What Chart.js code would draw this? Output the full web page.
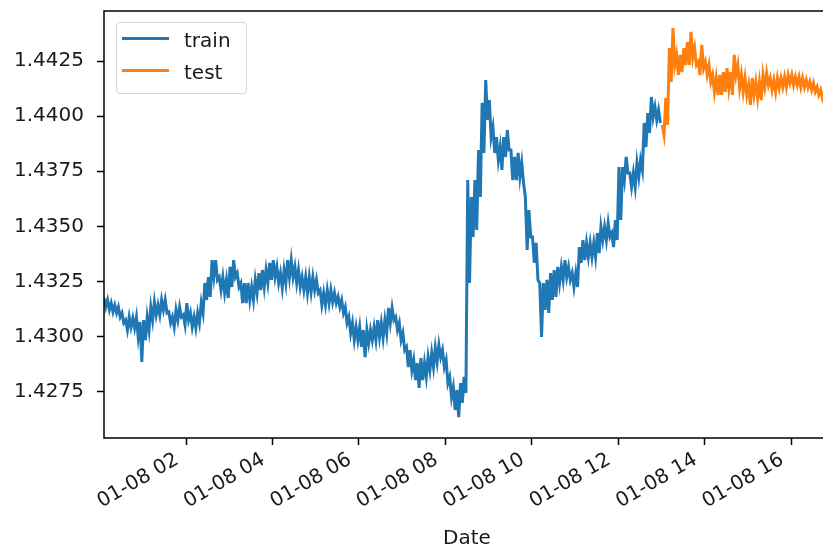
<!DOCTYPE html>
<html>
<head>
<meta charset="utf-8">
<script src="https://cdn.jsdelivr.net/npm/chart.js@4.4.1/dist/chart.umd.min.js"></script>
<style>
  html, body { margin: 0; padding: 0; background: #fff; overflow: hidden; }
  #wrap { position: relative; width: 832px; height: 547px; }
  .legend { position: absolute; left: 116px; top: 22px; width: 129px; height: 70px;
    border: 1px solid #d6d6d6; border-radius: 4px; background: rgba(255,255,255,0.8);
    font: 20px 'DejaVu Sans', sans-serif; color: #1a1a1a; }
  .legend .sw { position: absolute; left: 5px; width: 47px; height: 3px; }
  .legend .lb { position: absolute; left: 67px; height: 24px; line-height: 24px; }
</style>
</head>
<body>
<div id="wrap">
  <canvas id="chart"></canvas>
  <div class="legend">
    <div class="sw" style="top:14px;background:#1f77b4"></div>
    <div class="lb" style="top:5px">train</div>
    <div class="sw" style="top:46px;background:#ff7f0e"></div>
    <div class="lb" style="top:37px">test</div>
  </div>
</div>
<script>
  // hours after 01-08 00:00; each 5 min slot holds a high and a low reading
  const trainStart = 0.1;
  const testStart = 13.0167;
  const stepHours = 1 / 24;

  const trainPrices = [
    1.43175, 1.43134, 1.43166, 1.43121, 1.43152, 1.43112, 1.43143, 1.43107, 1.43134, 1.43089,
    1.43107, 1.43062, 1.43075, 1.43030, 1.43089, 1.43043, 1.43084, 1.43039, 1.43089, 1.42998,
    1.43066, 1.42885, 1.43075, 1.42984, 1.43089, 1.43030, 1.43134, 1.43075, 1.43157, 1.43098,
    1.43143, 1.43098, 1.43166, 1.43121, 1.43166, 1.43107, 1.43112, 1.43062, 1.43089, 1.43043,
    1.43121, 1.43075, 1.43134, 1.43089, 1.43098, 1.43053, 1.43152, 1.43075, 1.43107, 1.43043,
    1.43089, 1.43039, 1.43107, 1.43062, 1.43152, 1.43107, 1.43243, 1.43166, 1.43270, 1.43180,
    1.43347, 1.43270, 1.43347, 1.43257, 1.43270, 1.43211, 1.43270, 1.43198, 1.43257, 1.43175,
    1.43316, 1.43225, 1.43347, 1.43270, 1.43288, 1.43225, 1.43243, 1.43152, 1.43243, 1.43152,
    1.43243, 1.43166, 1.43225, 1.43166, 1.43257, 1.43198, 1.43288, 1.43211, 1.43302, 1.43225,
    1.43302, 1.43243, 1.43334, 1.43257, 1.43347, 1.43270, 1.43316, 1.43243, 1.43288, 1.43220,
    1.43302, 1.43243, 1.43347, 1.43270, 1.43347, 1.43270, 1.43316, 1.43243, 1.43302, 1.43225,
    1.43270, 1.43211, 1.43270, 1.43198, 1.43270, 1.43202, 1.43270, 1.43211, 1.43257, 1.43198,
    1.43211, 1.43143, 1.43198, 1.43143, 1.43211, 1.43152, 1.43211, 1.43157, 1.43198, 1.43152,
    1.43180, 1.43134, 1.43166, 1.43107, 1.43134, 1.43062, 1.43089, 1.43016, 1.43062, 1.42984,
    1.43043, 1.42984, 1.43043, 1.42953, 1.43030, 1.42907, 1.43030, 1.42971, 1.43030, 1.42984,
    1.43043, 1.42984, 1.43075, 1.42998, 1.43062, 1.42994, 1.43075, 1.43016, 1.43130, 1.43062,
    1.43130, 1.43075, 1.43089, 1.43030, 1.43062, 1.42984, 1.43016, 1.42939, 1.42953, 1.42862,
    1.42939, 1.42848, 1.42894, 1.42803, 1.42880, 1.42767, 1.42903, 1.42803, 1.42880, 1.42817,
    1.42907, 1.42848, 1.42925, 1.42862, 1.42948, 1.42885, 1.42962, 1.42907, 1.42939, 1.42862,
    1.42894, 1.42789, 1.42817, 1.42726, 1.42771, 1.42667, 1.42758, 1.42635, 1.42789, 1.42699,
    1.42817, 1.42744, 1.43710, 1.43243, 1.43633, 1.43452, 1.43710, 1.43484, 1.43846, 1.43633,
    1.44060, 1.43833, 1.44164, 1.43983, 1.44073, 1.43905, 1.43951, 1.43833, 1.43905, 1.43801,
    1.43860, 1.43756, 1.43905, 1.43815, 1.43937, 1.43846, 1.43846, 1.43710, 1.43815, 1.43710,
    1.43833, 1.43724, 1.43788, 1.43697, 1.43633, 1.43393, 1.43574, 1.43452, 1.43452, 1.43334,
    1.43425, 1.43257, 1.43243, 1.42998, 1.43243, 1.43121, 1.43257, 1.43107, 1.43288, 1.43166,
    1.43302, 1.43180, 1.43316, 1.43243, 1.43316, 1.43257, 1.43347, 1.43270, 1.43316, 1.43257,
    1.43288, 1.43225, 1.43288, 1.43225, 1.43406, 1.43334, 1.43438, 1.43347, 1.43425, 1.43361,
    1.43425, 1.43361, 1.43425, 1.43361, 1.43470, 1.43379, 1.43497, 1.43438, 1.43497, 1.43438,
    1.43515, 1.43452, 1.43470, 1.43406, 1.43529, 1.43438, 1.43769, 1.43529, 1.43769, 1.43710,
    1.43815, 1.43742, 1.43742, 1.43679, 1.43742, 1.43679, 1.43788, 1.43724, 1.43801, 1.43756,
    1.43969, 1.43860, 1.44014, 1.43924, 1.44087, 1.43996, 1.44042, 1.43983, 1.44028, 1.43969
  ];

  const testPrices = [
    1.43960, 1.43915, 1.44082, 1.43960, 1.44309, 1.44155, 1.44400, 1.44232, 1.44278, 1.44187,
    1.44278, 1.44200, 1.44309, 1.44232, 1.44336, 1.44232, 1.44382, 1.44264, 1.44309, 1.44232,
    1.44246, 1.44187, 1.44323, 1.44218, 1.44246, 1.44187, 1.44232, 1.44155, 1.44187, 1.44110,
    1.44173, 1.44096, 1.44187, 1.44096, 1.44200, 1.44110, 1.44218, 1.44128, 1.44200, 1.44096,
    1.44278, 1.44187, 1.44232, 1.44128, 1.44187, 1.44110, 1.44173, 1.44096, 1.44141, 1.44051,
    1.44173, 1.44096, 1.44155, 1.44082, 1.44155, 1.44073, 1.44187, 1.44132, 1.44196, 1.44141,
    1.44173, 1.44119, 1.44164, 1.44110, 1.44173, 1.44128, 1.44173, 1.44132, 1.44178, 1.44132,
    1.44187, 1.44150, 1.44187, 1.44141, 1.44178, 1.44141, 1.44178, 1.44132, 1.44173, 1.44132,
    1.44164, 1.44128, 1.44155, 1.44119, 1.44150, 1.44110, 1.44132, 1.44096, 1.44119, 1.44082,
    1.44110, 1.44082
  ];

  const hourTicks = [2, 4, 6, 8, 10, 12, 14, 16];
  const priceTicks = [1.4275, 1.4300, 1.4325, 1.4350, 1.4375, 1.4400, 1.4425];

  const toPoints = (start, prices) => prices.map((p, k) => ({ x: start + k * stepHours, y: p }));

  const textColor = "#1a1a1a";
  Chart.defaults.font.family = "'DejaVu Sans', sans-serif";
  Chart.defaults.font.size = 20;
  Chart.defaults.color = textColor;

  const frame = {
    id: "frame",
    afterDraw(chart) {
      const { ctx, chartArea } = chart;
      ctx.save();
      ctx.strokeStyle = "#000";
      ctx.lineWidth = 1.5;
      ctx.strokeRect(chartArea.left, chartArea.top, chartArea.right - chartArea.left, chartArea.bottom - chartArea.top);
      ctx.restore();
    },
  };

  const tickGrid = {
    drawOnChartArea: false,
    drawTicks: true,
    tickLength: 7,
    tickColor: "#000",
    tickWidth: 1.5,
  };

  new Chart(document.getElementById("chart"), {
    type: "line",
    data: {
      datasets: [
        {
          label: "train",
          data: toPoints(trainStart, trainPrices),
          borderColor: "#1f77b4",
          borderWidth: 3,
          pointRadius: 0,
          tension: 0,
        },
        {
          label: "test",
          data: toPoints(testStart, testPrices),
          borderColor: "#ff7f0e",
          borderWidth: 3,
          pointRadius: 0,
          tension: 0,
        },
      ],
    },
    options: {
      responsive: true,
      maintainAspectRatio: false,
      animation: false,
      devicePixelRatio: 1,
      layout: { padding: { top: 11, left: 0, right: 2, bottom: 0 } },
      plugins: { legend: { display: false }, tooltip: { enabled: false } },
      scales: {
        x: {
          type: "linear",
          min: 0.1,
          max: 16.9,
          border: { display: false },
          grid: tickGrid,
          afterBuildTicks: (scale) => { scale.ticks = hourTicks.map((v) => ({ value: v })); },
          ticks: {
            autoSkip: false,
            minRotation: 30,
            maxRotation: 30,
            padding: 3,
            labelOffset: -9,
            callback: (v) => "01-08 " + String(v).padStart(2, "0"),
          },
          title: {
            display: true,
            text: "Date",
            font: { size: 20, lineHeight: 0.8 },
            padding: { top: 0, bottom: 0 },
          },
          afterFit: (scale) => {
            scale.height = 109;
            scale.paddingLeft = 0;
            scale.paddingRight = 0;
          },
        },
        y: {
          type: "linear",
          min: 1.4254,
          max: 1.44477,
          border: { display: false },
          grid: tickGrid,
          afterBuildTicks: (scale) => { scale.ticks = priceTicks.map((v) => ({ value: v })); },
          ticks: {
            padding: 13,
            callback: (v) => v.toFixed(4),
          },
          afterFit: (scale) => {
            scale.width = 104;
            scale.paddingTop = 0;
            scale.paddingBottom = 0;
          },
        },
      },
    },
    plugins: [frame],
  });
</script>
</body>
</html>
